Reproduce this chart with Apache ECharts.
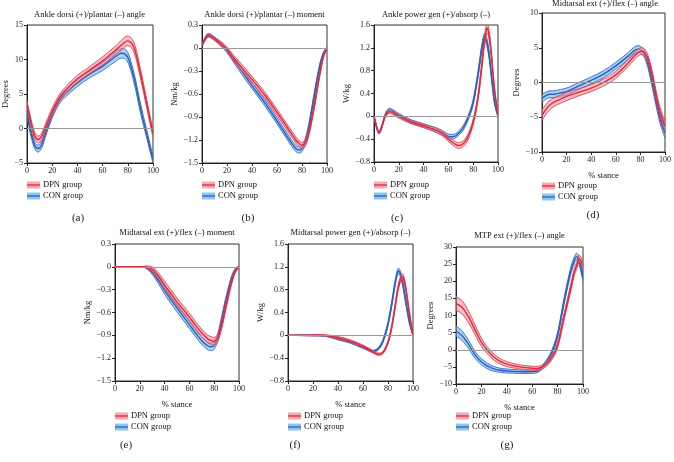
<!DOCTYPE html>
<html><head><meta charset="utf-8">
<script src="https://cdn.jsdelivr.net/npm/echarts@6/dist/echarts.min.js"></script>
<style>html,body{margin:0;padding:0;background:#fff}#c{width:674px;height:462px}</style>
</head><body><div id="c"></div>
<script>
// ---------- DATA ----------
const titles = ['Ankle dorsi (+)/plantar (–) angle','Ankle dorsi (+)/plantar (–) moment','Ankle power gen (+)/absorp (–)','Midtarsal ext (+)/flex (–) angle','Midtarsal ext (+)/flex (–) moment','Midtarsal power gen (+)/absorp (–)','MTP ext (+)/flex (–) angle'];
const yNames = ['Degrees','Nm/kg','W/kg','Degrees','Nm/kg','W/kg','Degrees'];
const panelLabels = ['(a)','(b)','(c)','(d)','(e)','(f)','(g)'];
const groupNames = ['DPN group','CON group'];
const xName = '% stance';

// (a)
const aX = [0,3,6,9,12,15,20,25,30,40,50,60,70,75,80,85,90,95,100];
const aDpn = [3.5,1.0,-1.0,-1.6,-1.0,0.3,2.5,4.2,5.4,7.2,8.5,9.8,11.3,12.1,12.7,11.7,8.0,3.6,-0.8];
const aDpnSd = [0.5,0.5,0.5,0.5,0.5,0.5,0.5,0.5,0.5,0.5,0.5,0.6,0.6,0.7,0.7,0.7,0.7,0.6,0.5];
const aCon = [2.2,-0.5,-2.4,-2.9,-2.2,-0.5,2.0,3.9,5.0,6.6,7.9,9.0,10.4,10.9,10.3,7.3,3.0,-0.8,-4.5];
const aConSd = [0.5,0.5,0.5,0.5,0.5,0.5,0.5,0.5,0.5,0.5,0.5,0.6,0.7,0.7,0.7,0.7,0.7,0.6,0.5];
// (b)
const bX = [0,3,5,8,12,16,20,25,30,40,50,60,70,75,78,80,83,86,90,94,97,100];
const bDpn = [0.03,0.13,0.16,0.14,0.09,0.04,-0.02,-0.12,-0.22,-0.41,-0.61,-0.84,-1.08,-1.2,-1.25,-1.27,-1.23,-1.07,-0.74,-0.36,-0.12,0];
const bDpnSd = [0.01,0.02,0.02,0.02,0.02,0.03,0.03,0.03,0.04,0.04,0.04,0.04,0.04,0.04,0.04,0.04,0.04,0.04,0.04,0.03,0.02,0.01];
const bCon = [0.04,0.14,0.17,0.15,0.1,0.04,-0.03,-0.15,-0.26,-0.49,-0.71,-0.95,-1.2,-1.31,-1.33,-1.31,-1.2,-0.98,-0.6,-0.25,-0.08,0];
const bConSd = [0.01,0.02,0.02,0.02,0.02,0.03,0.03,0.03,0.04,0.04,0.04,0.04,0.04,0.04,0.04,0.04,0.04,0.04,0.04,0.03,0.02,0.01];
// (c)
const cX = [0,2,4,6,9,12,15,20,30,40,50,55,60,65,68,72,76,80,84,87,89,91,93,95,97,100];
const cDpn = [0,-0.18,-0.28,-0.2,0.0,0.08,0.06,0.0,-0.1,-0.17,-0.24,-0.3,-0.4,-0.48,-0.51,-0.48,-0.35,-0.1,0.35,0.9,1.3,1.54,1.4,1.0,0.5,0.02];
const cDpnSd = [0.01,0.02,0.02,0.02,0.02,0.03,0.03,0.03,0.03,0.03,0.04,0.04,0.04,0.05,0.05,0.05,0.05,0.05,0.06,0.07,0.08,0.08,0.08,0.07,0.05,0.02];
const cCon = [0,-0.18,-0.29,-0.2,0.02,0.11,0.09,0.02,-0.09,-0.16,-0.24,-0.29,-0.35,-0.35,-0.3,-0.2,-0.02,0.25,0.75,1.2,1.38,1.3,1.05,0.65,0.28,0];
const cConSd = [0.01,0.02,0.02,0.02,0.02,0.03,0.03,0.03,0.03,0.03,0.04,0.04,0.04,0.04,0.04,0.04,0.04,0.05,0.06,0.07,0.07,0.07,0.07,0.06,0.04,0.02];
// (d)
const dX = [0,3,6,10,15,20,30,40,50,60,70,75,78,81,84,87,90,93,96,100];
const dDpn = [-4.7,-3.9,-3.3,-2.8,-2.4,-2.0,-1.4,-0.8,0.0,1.1,2.8,3.8,4.3,4.5,4.2,3.0,0.8,-2.0,-4.2,-6.3];
const dDpnSd = [0.8,0.7,0.7,0.6,0.6,0.6,0.5,0.5,0.5,0.5,0.5,0.5,0.5,0.5,0.5,0.5,0.5,0.6,0.6,0.7];
const dCon = [-2.3,-1.9,-1.7,-1.7,-1.5,-1.3,-0.5,0.3,1.2,2.4,3.8,4.6,4.8,4.6,3.8,2.0,-0.5,-3.0,-5.3,-7.3];
const dConSd = [0.6,0.5,0.5,0.5,0.5,0.5,0.5,0.5,0.5,0.5,0.5,0.5,0.5,0.5,0.5,0.5,0.5,0.6,0.6,0.7];
// (e)
const eX = [0,10,20,25,30,35,40,45,50,55,60,65,70,75,78,80,83,86,90,94,97,100];
const eDpn = [0,0,0,0,-0.03,-0.12,-0.24,-0.35,-0.46,-0.56,-0.66,-0.77,-0.87,-0.95,-0.97,-0.98,-0.93,-0.77,-0.48,-0.2,-0.06,0];
const eDpnSd = [0,0,0,0.01,0.03,0.04,0.05,0.05,0.05,0.05,0.05,0.05,0.05,0.05,0.05,0.05,0.05,0.05,0.04,0.03,0.02,0.01];
const eCon = [0,0,0,-0.01,-0.07,-0.18,-0.31,-0.43,-0.54,-0.65,-0.76,-0.87,-0.97,-1.04,-1.05,-1.03,-0.92,-0.7,-0.4,-0.15,-0.04,0];
const eConSd = [0,0,0,0.01,0.03,0.04,0.05,0.05,0.05,0.05,0.05,0.05,0.05,0.05,0.05,0.05,0.05,0.05,0.04,0.03,0.02,0.01];
// (f)
const fX = [0,20,30,40,50,60,65,68,72,76,80,83,86,88,90,92,94,97,100];
const fDpn = [0,0,0,-0.04,-0.1,-0.19,-0.25,-0.29,-0.33,-0.3,-0.12,0.15,0.55,0.82,0.98,1.02,0.85,0.4,0];
const fDpnSd = [0,0.01,0.01,0.02,0.02,0.02,0.02,0.02,0.02,0.02,0.03,0.04,0.05,0.05,0.05,0.05,0.05,0.04,0.01];
const fCon = [0,0,-0.01,-0.06,-0.12,-0.21,-0.26,-0.28,-0.24,-0.1,0.2,0.55,0.95,1.12,1.07,0.88,0.62,0.25,0];
const fConSd = [0,0.01,0.01,0.02,0.02,0.02,0.02,0.02,0.02,0.03,0.04,0.05,0.05,0.05,0.05,0.05,0.05,0.04,0.01];
// (g)
const gX = [0,5,10,15,20,25,30,35,40,50,60,65,70,75,80,85,90,93,95,97,100];
const gDpn = [13.5,12.3,9.5,5.8,2.2,-0.3,-2.2,-3.4,-4.2,-5.0,-5.4,-5.4,-4.6,-2.5,1.3,9.5,17.5,22.5,24.5,26.6,24.5];
const gDpnSd = [2,1.9,1.7,1.4,1.2,1,0.9,0.8,0.7,0.6,0.6,0.6,0.6,0.7,0.8,1,1,1,1,1,1];
const gCon = [5.5,4,1.5,-1.5,-3.5,-4.8,-5.6,-6.0,-6.2,-6.4,-6.4,-6.0,-4.2,-1.2,4.3,14,22.5,26,27.2,25.8,21];
const gConSd = [1.5,1.4,1.2,1.0,0.9,0.8,0.7,0.6,0.6,0.5,0.5,0.5,0.6,0.7,0.8,1,1,1,1,1,1];

const yMin = [-5,-1.5,-0.8,-10,-1.5,-0.8,-10];
const yMax = [15,0.3,1.6,10,0.3,1.6,30];
const yStep = [5,0.3,0.4,5,0.3,0.4,5];

// ---------- LAYOUT ----------
const panelData = [
  [aX,aDpn,aDpnSd,aCon,aConSd],[bX,bDpn,bDpnSd,bCon,bConSd],[cX,cDpn,cDpnSd,cCon,cConSd],
  [dX,dDpn,dDpnSd,dCon,dConSd],[eX,eDpn,eDpnSd,eCon,eConSd],[fX,fDpn,fDpnSd,fCon,fConSd],[gX,gDpn,gDpnSd,gCon,gConSd]
];
const grids = [
  {left:26,top:25,width:127,height:138},
  {left:202,top:25,width:125,height:138},
  {left:374,top:25,width:124,height:137},
  {left:542,top:13,width:126,height:139},
  {left:115,top:244,width:124,height:137},
  {left:288,top:244,width:125,height:137},
  {left:456,top:247,width:127,height:137}
];
const hasXName = [false,false,false,true,true,true,true];
const nameGaps = [17,22,21,18,21,22,19];
const titleY = [15,15,15,4,233,233,236];
const labelPos = [[78,218],[248,218],[397,218],[593,215],[126,445],[295,445],[507,445]];
const legendPos = [[27,185],[202,185],[374,185],[542,186],[115,416],[288,416],[456,416]];

const FONT = "'Liberation Serif','DejaVu Serif',serif";
const RED = {line:'#e2283a', edge:'#e0404f', fill:'rgba(242,140,152,0.55)', patch:'#f5a9b1'};
const BLUE = {line:'#2a5fc0', edge:'#3569c8', fill:'rgba(110,180,236,0.6)', patch:'#8cc6ef'};
const fmt = v => { let s = (Math.round(v*100)/100).toString(); return s.replace('-', '\u2212'); };

// cubic Hermite (finite-difference slopes) through pixel points -> SVG path segments
function slopes(p) {
  const n = p.length, m = [];
  for (let i = 0; i < n; i++) {
    const a = p[Math.max(0, i-1)], b = p[Math.min(n-1, i+1)];
    m.push((b[1]-a[1])/(b[0]-a[0]));
  }
  return m;
}
function curve(p) {
  const m = slopes(p); let d = '';
  for (let i = 0; i < p.length-1; i++) {
    const h = p[i+1][0]-p[i][0];
    d += ' C' + (p[i][0]+h/3) + ' ' + (p[i][1]+m[i]*h/3) + ' ' + (p[i+1][0]-h/3) + ' ' + (p[i+1][1]-m[i+1]*h/3) + ' ' + p[i+1][0] + ' ' + p[i+1][1];
  }
  return d;
}
function lineD(p) { return 'M' + p[0][0] + ' ' + p[0][1] + curve(p); }

function makeBand(i, k) {
  const [xs, dm, ds, cm, cs] = panelData[i];
  const m = k === 0 ? cm : dm, s = k === 0 ? cs : ds, col = k === 0 ? BLUE : RED;
  return {
    type:'custom', xAxisIndex:i, yAxisIndex:i, z:2+k, silent:true, clip:true,
    name: k === 0 ? groupNames[1] : groupNames[0],
    data: xs.map((x,j)=>[x, m[j]]),
    renderItem: function(params, api) {
      if (params.dataIndex !== 0) return null;
      const up = xs.map((x,j)=>api.coord([x, m[j]+s[j]]));
      const lo = xs.map((x,j)=>api.coord([x, m[j]-s[j]]));
      const mid = xs.map((x,j)=>api.coord([x, m[j]]));
      const loR = lo.slice().reverse();
      const fillD = lineD(up) + ' L' + loR[0][0] + ' ' + loR[0][1] + curve(loR) + ' Z';
      return {type:'group', children:[
        {type:'path', shape:{pathData:fillD}, style:{fill:col.fill, stroke:null}},
        {type:'path', shape:{pathData:lineD(up)}, style:{fill:null, stroke:col.edge, lineWidth:0.9}},
        {type:'path', shape:{pathData:lineD(lo)}, style:{fill:null, stroke:col.edge, lineWidth:0.9}},
        {type:'path', shape:{pathData:lineD(mid)}, style:{fill:null, stroke:col.line, lineWidth:1.4}}
      ]};
    }
  };
}

const option = {animation:false, grid:[], xAxis:[], yAxis:[], series:[], graphic:[]};

grids.forEach((g,i) => {
  option.grid.push(Object.assign({show:true, borderColor:'#333', borderWidth:1, containLabel:false}, g));
  option.xAxis.push({
    type:'value', gridIndex:i, min:0, max:100, interval:20,
    name: hasXName[i] ? xName : '', nameLocation:'middle', nameGap:19,
    nameTextStyle:{fontFamily:FONT, fontSize:8.5, color:'#111'},
    axisLine:{onZero:false, lineStyle:{color:'#222', width:1}},
    axisTick:{show:true, length:3, lineStyle:{color:'#222'}},
    axisLabel:{fontFamily:FONT, fontSize:8, color:'#222', margin:4},
    splitLine:{show:false}
  });
  option.yAxis.push({
    type:'value', gridIndex:i, min:yMin[i], max:yMax[i], interval:yStep[i],
    name:yNames[i], nameLocation:'middle', nameGap:nameGaps[i], nameRotate:90,
    nameTextStyle:{fontFamily:FONT, fontSize:8.5, color:'#111'},
    axisLine:{onZero:false, lineStyle:{color:'#222', width:1}},
    axisTick:{show:true, length:3, lineStyle:{color:'#222'}},
    axisLabel:{fontFamily:FONT, fontSize:8, color:'#222', margin:4, formatter:fmt},
    splitLine:{show:false}
  });
  option.series.push({
    type:'line', xAxisIndex:i, yAxisIndex:i, data:[], z:1, silent:true,
    markLine:{silent:true, symbol:'none', label:{show:false}, animation:false,
      lineStyle:{color:'#9a9a9a', width:1, type:'solid'}, data:[{yAxis:0}]}
  });
  option.series.push(makeBand(i, 0));
  option.series.push(makeBand(i, 1));
  option.graphic.push({type:'text', x:g.left+g.width/2, y:titleY[i], silent:true,
    style:{text:titles[i], font:'8.5px '+FONT, fill:'#111', align:'center', verticalAlign:'middle'}});
  option.graphic.push({type:'text', x:labelPos[i][0], y:labelPos[i][1], silent:true,
    style:{text:panelLabels[i], font:'11px '+FONT, fill:'#222', align:'center', verticalAlign:'middle'}});
  const [lx, ly] = legendPos[i];
  [[RED,groupNames[0],0],[BLUE,groupNames[1],11]].forEach(([col,nm,dy]) => {
    option.graphic.push({type:'rect', silent:true, shape:{x:lx, y:ly+dy-3.5, width:13, height:7}, style:{fill:col.patch}});
    option.graphic.push({type:'line', silent:true, shape:{x1:lx, y1:ly+dy, x2:lx+13, y2:ly+dy}, style:{stroke:col.line, lineWidth:1.3}});
    option.graphic.push({type:'text', silent:true, x:lx+16, y:ly+dy,
      style:{text:nm, font:'8.5px '+FONT, fill:'#111', align:'left', verticalAlign:'middle'}});
  });
});

const chart = echarts.init(document.getElementById('c'), null, {renderer:'canvas'});
chart.setOption(option);
</script>
</body></html>
